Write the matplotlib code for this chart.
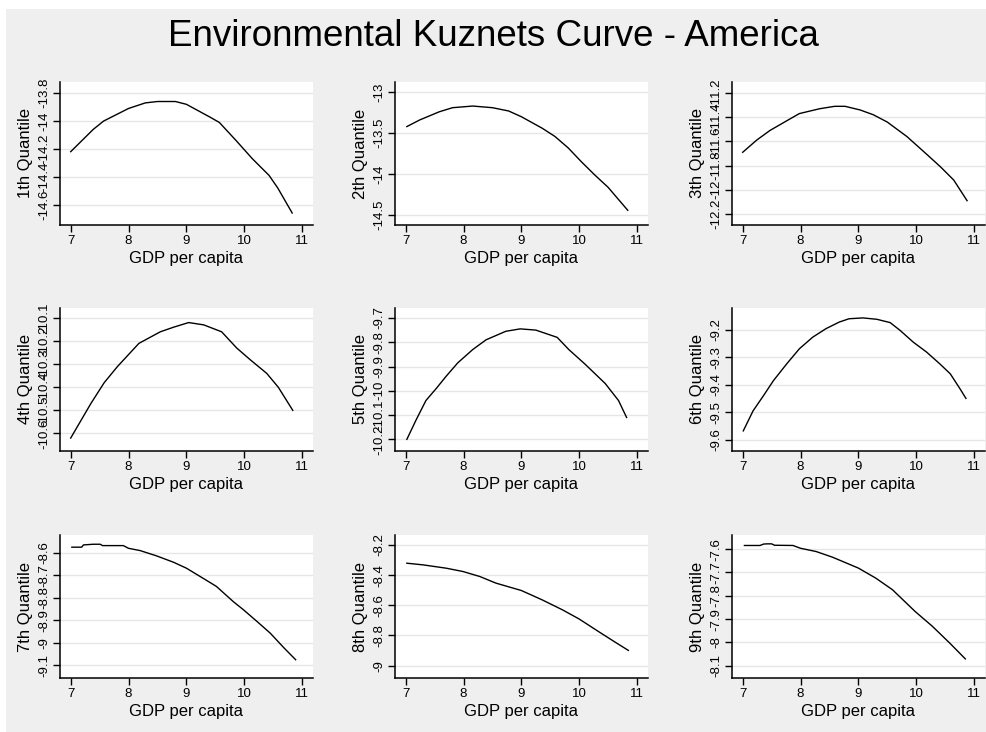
import numpy as np
import matplotlib
matplotlib.use("Agg")
import matplotlib.pyplot as plt
from matplotlib.patches import Rectangle
from matplotlib.ticker import FormatStrFormatter

plt.rcParams['font.family'] = ['Liberation Sans Narrow', 'Liberation Sans', 'DejaVu Sans']

# values (x = log GDP per capita, y = fitted quantile)
q1_x = [7.0, 7.39, 7.57, 8.0, 8.29, 8.5, 8.81, 9.0, 9.4, 9.57, 9.86, 10.14, 10.43, 10.58, 10.83]
q1_y = [-14.22, -14.06, -14.0, -13.91, -13.87, -13.86, -13.86, -13.88, -13.97, -14.01, -14.14, -14.27, -14.39, -14.48, -14.66]

q2_x = [7.02, 7.24, 7.58, 7.81, 8.16, 8.5, 8.78, 9.0, 9.36, 9.58, 9.81, 10.04, 10.27, 10.5, 10.67, 10.84]
q2_y = [-13.42, -13.34, -13.24, -13.19, -13.17, -13.19, -13.23, -13.30, -13.44, -13.54, -13.68, -13.85, -14.01, -14.16, -14.30, -14.44]

q3_x = [7.0, 7.24, 7.47, 7.76, 7.98, 8.33, 8.59, 8.77, 9.03, 9.26, 9.5, 9.84, 10.19, 10.42, 10.65, 10.88]
q3_y = [-11.69, -11.59, -11.51, -11.43, -11.37, -11.33, -11.31, -11.31, -11.34, -11.38, -11.44, -11.56, -11.71, -11.81, -11.92, -12.09]

q4_x = [7.0, 7.14, 7.35, 7.58, 7.81, 8.18, 8.55, 8.78, 9.04, 9.3, 9.61, 9.87, 10.1, 10.39, 10.59, 10.84]
q4_y = [-10.62, -10.56, -10.47, -10.38, -10.31, -10.21, -10.16, -10.14, -10.12, -10.13, -10.16, -10.23, -10.28, -10.34, -10.40, -10.50]

q5_x = [7.02, 7.18, 7.35, 7.53, 7.7, 7.9, 8.16, 8.39, 8.73, 8.98, 9.25, 9.62, 9.82, 10.1, 10.45, 10.68, 10.82]
q5_y = [-10.20, -10.12, -10.04, -9.99, -9.94, -9.885, -9.83, -9.79, -9.755, -9.745, -9.75, -9.78, -9.83, -9.89, -9.97, -10.04, -10.11]

q6_x = [7.01, 7.18, 7.36, 7.53, 7.76, 7.98, 8.21, 8.44, 8.67, 8.84, 9.08, 9.32, 9.55, 9.72, 9.95, 10.18, 10.41, 10.59, 10.76, 10.86]
q6_y = [-9.567, -9.494, -9.439, -9.385, -9.324, -9.269, -9.227, -9.196, -9.172, -9.16, -9.157, -9.162, -9.174, -9.202, -9.245, -9.281, -9.324, -9.36, -9.415, -9.449]

q7_x = [7.02, 7.19, 7.22, 7.39, 7.51, 7.55, 7.91, 8.0, 8.2, 8.49, 8.78, 9.0, 9.29, 9.52, 9.81, 9.99, 10.22, 10.45, 10.69, 10.89]
q7_y = [-8.576, -8.576, -8.566, -8.563, -8.563, -8.569, -8.569, -8.581, -8.591, -8.615, -8.643, -8.669, -8.714, -8.75, -8.817, -8.854, -8.905, -8.957, -9.023, -9.075]

q8_x = [7.02, 7.3, 7.7, 7.99, 8.28, 8.56, 9.0, 9.36, 9.71, 10.0, 10.33, 10.62, 10.85]
q8_y = [-8.321, -8.332, -8.354, -8.376, -8.409, -8.453, -8.502, -8.564, -8.63, -8.691, -8.773, -8.844, -8.899]

q9_x = [7.03, 7.3, 7.36, 7.42, 7.5, 7.55, 7.87, 8.0, 8.27, 8.55, 9.0, 9.3, 9.59, 9.98, 10.28, 10.58, 10.85]
q9_y = [-7.584, -7.584, -7.578, -7.577, -7.577, -7.583, -7.584, -7.596, -7.61, -7.634, -7.681, -7.724, -7.774, -7.867, -7.931, -8.003, -8.071]

y_ticks = [
    [-14.6, -14.4, -14.2, -14, -13.8],
    [-14.5, -14, -13.5, -13],
    [-12.2, -12, -11.8, -11.6, -11.4, -11.2],
    [-10.6, -10.5, -10.4, -10.3, -10.2, -10.1],
    [-10.2, -10.1, -10, -9.9, -9.8, -9.7],
    [-9.6, -9.5, -9.4, -9.3, -9.2],
    [-9.1, -9, -8.9, -8.8, -8.7, -8.6],
    [-9, -8.8, -8.6, -8.4, -8.2],
    [-8.1, -8, -7.9, -7.8, -7.7, -7.6],
]
x_ticks = [7, 8, 9, 10, 11]
labels = ["1th Quantile", "2th Quantile", "3th Quantile", "4th Quantile", "5th Quantile",
          "6th Quantile", "7th Quantile", "8th Quantile", "9th Quantile"]

series = [(q1_x, q1_y), (q2_x, q2_y), (q3_x, q3_y), (q4_x, q4_y), (q5_x, q5_y),
          (q6_x, q6_y), (q7_x, q7_y), (q8_x, q8_y), (q9_x, q9_y)]

# axis ranges (stata-ish padding)
y_lims = [(-14.746, -13.72), (-14.619, -12.877), (-12.291, -11.109),
          (-10.676, -10.057), (-10.248, -9.659), (-9.64, -9.121),
          (-9.156, -8.522), (-9.082, -8.134), (-8.153, -7.539)]

W, H = 987, 732
fig = plt.figure(figsize=(W / 100, H / 100), dpi=100)
fig.patch.set_facecolor('white')
fig.patches.append(Rectangle((6 / W, 0), 1, 1 - 9 / H, transform=fig.transFigure,
                             facecolor='#efefef', edgecolor='none', zorder=-10))

fig.text(0.5, 1 - 36 / H, "Environmental Kuznets Curve - America", ha='center', va='center',
         fontsize=26.5, color='black')

col_left = [60, 395, 732]
row_top = [82, 308, 535]
aw, ah = 253, 143

for i, (xs, ys) in enumerate(series):
    r, c = divmod(i, 3)
    ax = fig.add_axes([col_left[c] / W, (H - row_top[r] - ah) / H, aw / W, ah / H])
    ax.set_facecolor('white')
    ax.plot(xs, ys, color='black', lw=1)
    ax.set_xlim(6.815, 11.19)
    ax.set_ylim(*y_lims[i])
    ax.set_xticks(x_ticks)
    ax.set_yticks(y_ticks[i])
    ax.yaxis.set_major_formatter(FormatStrFormatter('%g'))
    ax.grid(axis='y', color='#e6e6e6', lw=1)
    ax.set_axisbelow(True)
    for s in ['top', 'right']:
        ax.spines[s].set_visible(False)
    for s in ['left', 'bottom']:
        ax.spines[s].set_linewidth(1.1)
    ax.tick_params(length=5, width=1, pad=2, labelsize=9.5, colors='black')
    plt.setp(ax.get_yticklabels(), rotation=90, va='center')
    ax.set_xlabel("GDP per capita", fontsize=12, labelpad=3)
    ax.set_ylabel(labels[i], fontsize=12, labelpad=4)

fig.savefig("out.png", dpi=100, facecolor=fig.get_facecolor())
